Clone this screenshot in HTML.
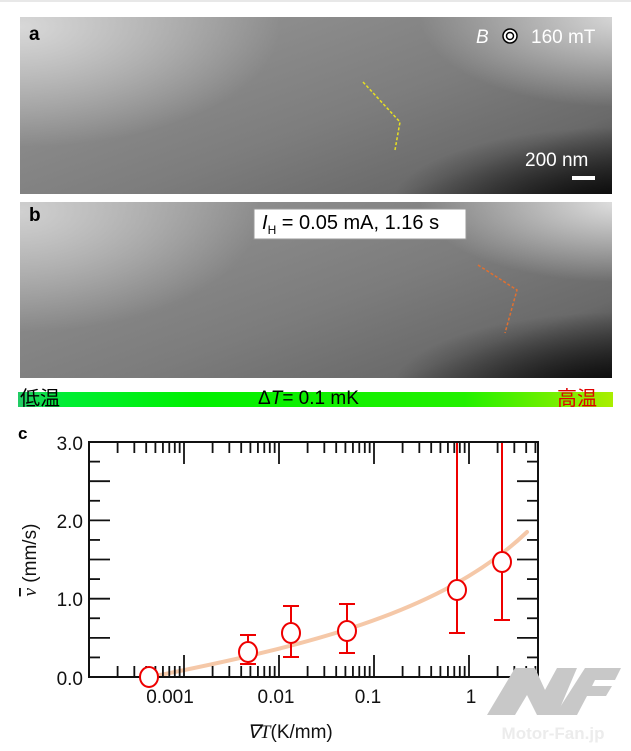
<!DOCTYPE html>
<html><head><meta charset="utf-8"><style>
html,body{margin:0;padding:0;background:#fff;}
body{width:631px;height:751px;position:relative;overflow:hidden;font-family:"Liberation Sans","Noto Sans CJK JP",sans-serif;}
.img{position:absolute;left:20px;width:592px;overflow:hidden;}
</style></head><body>
<div style="position:absolute;left:0;top:0;width:631px;height:2px;background:#e8e8e8"></div>
<div class="img" style="top:17px;height:177px;background:
radial-gradient(ellipse 260px 120px at 0px 10px,#d8d8d8,rgba(200,200,200,0) 100%),
radial-gradient(ellipse 200px 90px at 600px 0px,#d8d8d8,rgba(200,200,200,0) 100%),
radial-gradient(ellipse 230px 80px at 600px 190px,#050505,rgba(0,0,0,0) 100%),
linear-gradient(160deg,#9a9a9a 0%,#8a8a8a 30%,#7d7d7d 55%,#6a6a6a 80%,#3a3a3a 100%);">
</div>
<div class="img" style="top:202px;height:176px;background:
radial-gradient(ellipse 240px 120px at 0px 10px,#d0d0d0,rgba(200,200,200,0) 100%),
radial-gradient(ellipse 200px 80px at 600px 0px,#e0e0e0,rgba(200,200,200,0) 100%),
radial-gradient(ellipse 230px 80px at 600px 190px,#050505,rgba(0,0,0,0) 100%),
linear-gradient(160deg,#9a9a9a 0%,#888 30%,#7c7c7c 55%,#6a6a6a 80%,#3a3a3a 100%);">
</div>
<svg width="631" height="751" style="position:absolute;left:0;top:0">
<polyline points="363,82 400,122 395,150" fill="none" stroke="#e8e020" stroke-width="1.5" stroke-dasharray="3,2"/>
<polyline points="478,265 517,290 505,333" fill="none" stroke="#e07030" stroke-width="1.5" stroke-dasharray="3,2"/>
<rect x="572" y="176" width="23" height="4" fill="#fff"/>
<circle cx="510" cy="36" r="7" fill="#fff" stroke="#000" stroke-width="1.5"/>
<circle cx="510" cy="36" r="3.5" fill="none" stroke="#000" stroke-width="1.5"/>
<rect x="254" y="209" width="212" height="30" fill="#fff" stroke="#999" stroke-width="1"/>
</svg>
<div style="position:absolute;left:29px;top:24px;font-weight:bold;font-size:19px;color:#000">a</div>
<div style="position:absolute;left:29px;top:205px;font-weight:bold;font-size:19px;color:#000">b</div>
<div style="position:absolute;left:476px;top:27px;font-size:19px;color:#fff;font-style:italic">B</div>
<div style="position:absolute;left:531px;top:27px;font-size:19px;color:#fff">160 mT</div>
<div style="position:absolute;left:525px;top:150px;font-size:19px;color:#fff">200 nm</div>
<div style="position:absolute;left:262px;top:212px;font-size:20px;color:#000"><i>I</i><sub style="font-size:12px">H</sub> = 0.05 mA, 1.16 s</div>
<div style="position:absolute;left:18px;top:392px;width:595px;height:15px;background:linear-gradient(90deg,#22cc66 0%,#00ee33 8%,#00f000 30%,#22f000 75%,#aaee00 100%)"></div>
<div style="position:absolute;left:20px;top:387px;font-size:20px;color:#000;line-height:24px">低温</div>
<div style="position:absolute;left:258px;top:387px;font-size:19px;color:#000;line-height:24px">Δ<i>T</i>= 0.1 mK</div>
<div style="position:absolute;left:557px;top:387px;font-size:20px;color:#e00000;line-height:24px">高温</div>
<div style="position:absolute;left:18px;top:424px;font-weight:bold;font-size:17px">c</div>
<svg width="631" height="751" style="position:absolute;left:0;top:0">
<g font-family="Liberation Sans, sans-serif" font-size="19" fill="#111">
<text x="83" y="450" text-anchor="end">3.0</text>
<text x="83" y="528" text-anchor="end">2.0</text>
<text x="83" y="606" text-anchor="end">1.0</text>
<text x="83" y="685" text-anchor="end">0.0</text>
<text x="170" y="703" text-anchor="middle">0.001</text>
<text x="276" y="703" text-anchor="middle">0.01</text>
<text x="368" y="703" text-anchor="middle">0.1</text>
<text x="471" y="703" text-anchor="middle">1</text>
<text x="290" y="738" text-anchor="middle"><tspan font-family="Liberation Serif, serif" font-style="italic">∇T</tspan>(K/mm)</text>
<text transform="translate(36,560) rotate(-90)" text-anchor="middle"><tspan font-family="Liberation Serif, serif" font-style="italic" text-decoration="overline">v</tspan> (mm/s)</text>
</g>
<path d="M150,677 C300,647 440,615 527,532" fill="none" stroke="#f5c8a8" stroke-width="4" stroke-linecap="round"/>
<g id="ax" stroke="#111" stroke-width="2" fill="none">
<rect x="89" y="442" width="449" height="235"/>
</g>
<g stroke="#111" stroke-width="1.8" id="ticks"></g>
<g stroke="#e00" stroke-width="2" fill="none">
<line x1="248" y1="635" x2="248" y2="664"/><line x1="240" y1="635" x2="256" y2="635"/><line x1="240" y1="664" x2="256" y2="664"/>
<line x1="291" y1="606" x2="291" y2="657"/><line x1="283" y1="606" x2="299" y2="606"/><line x1="283" y1="657" x2="299" y2="657"/>
<line x1="347" y1="604" x2="347" y2="653"/><line x1="339" y1="604" x2="355" y2="604"/><line x1="339" y1="653" x2="355" y2="653"/>
<line x1="457" y1="443" x2="457" y2="633"/><line x1="449" y1="633" x2="465" y2="633"/>
<line x1="502" y1="443" x2="502" y2="620"/><line x1="494" y1="620" x2="510" y2="620"/>
<g fill="#fff">
<ellipse cx="149" cy="677" rx="9" ry="10"/>
<ellipse cx="248" cy="652" rx="9" ry="10"/>
<ellipse cx="291" cy="633" rx="9" ry="10"/>
<ellipse cx="347" cy="631" rx="9" ry="10"/>
<ellipse cx="457" cy="590" rx="9" ry="10"/>
<ellipse cx="502" cy="562" rx="9" ry="10"/>
</g></g>
<g fill="#c8c8c8">
<polygon points="487,715 515,668 535,668 545,690 557,668 577,668 557,715 537,715 527,695 515,715"/>
<polygon points="555,715 585,668 621,668 615,680 595,680 592,686 612,686 606,696 587,696 577,715"/>
</g>
<text x="553" y="739" text-anchor="middle" font-family="Liberation Sans, sans-serif" font-size="17" font-weight="bold" fill="#ececec">Motor-Fan.jp</text>
</svg>
<script>
var g=document.getElementById('ticks'),s='';
function L(a,b,c,d){s+='<line x1="'+a+'" y1="'+b+'" x2="'+c+'" y2="'+d+'"/>';}
for(var k=0;k<5;k++){for(var m=1;m<10;m++){var x=89+95*(k+Math.log10(m));if(x>537)break;if(x<90)continue;var len=m==1?22:11;L(x,677,x,677-len);L(x,442,x,442+len);}}
for(var i=1;i<12;i++){var y=677-i*19.58;var len=(i%2==0)?21:11;L(89,y,89+len,y);L(538,y,538-len,y);}
g.innerHTML=s;
</script>
</body></html>
